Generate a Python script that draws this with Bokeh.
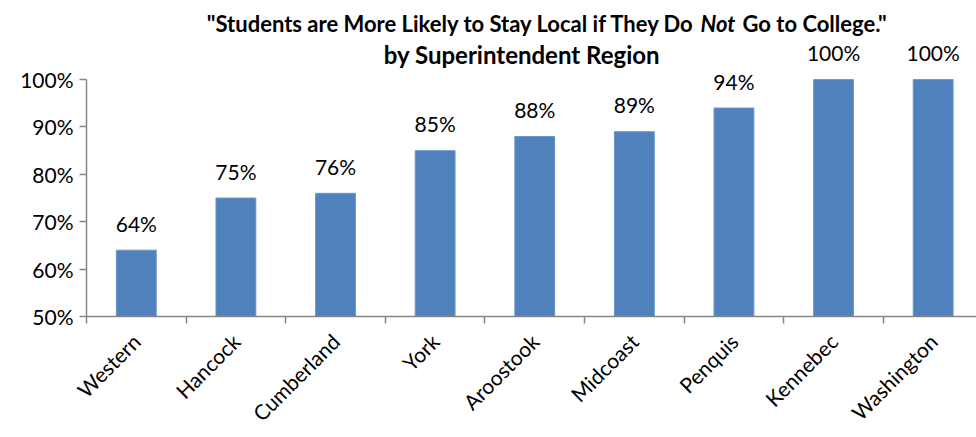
from bokeh.plotting import figure
from bokeh.models import ColumnDataSource, Range1d, FixedTicker, NumeralTickFormatter, Label
from bokeh.core.properties import value
from bokeh.embed import file_html
from bokeh.resources import INLINE

# ---- data ----
regions = ["Western", "Hancock", "Cumberland", "York", "Aroostook",
           "Midcoast", "Penquis", "Kennebec", "Washington"]
shares = [0.64, 0.75, 0.76, 0.85, 0.88, 0.89, 0.94, 1.00, 1.00]
y_ticks = [0.5, 0.6, 0.7, 0.8, 0.9, 1.0]
title_part1 = '"Students are More Likely to Stay Local if They Do'
title_part2 = 'Not'
title_part3 = 'Go to College."'
title_line2 = 'by Superintendent Region'

FONT = "Lato"
BAR = "#4F81BD"
AXIS = "#868686"

n = len(regions)
centers = [i + 0.5 for i in range(n)]
bounds = [float(i) for i in range(n + 1)]
labels = ["{:.0%}".format(v) for v in shares]

src = ColumnDataSource(dict(x=centers, top=shares, label=labels))

p = figure(width=976, height=437, output_backend="svg", toolbar_location=None,
           x_range=Range1d(0, 8.935), y_range=Range1d(0.5, 1.167),
           min_border_left=86, min_border_right=0, min_border_top=0,
           min_border_bottom=118)
p.outline_line_color = None
p.xgrid.visible = False
p.ygrid.visible = False

p.vbar(x="x", top="top", bottom=0.5, width=0.4, source=src,
       fill_color=BAR, line_color="#6A95C9", line_width=1)

p.text(x="x", y="top", text="label", source=src, text_align="center",
       text_baseline="alphabetic", y_offset=-27, text_font=value(FONT),
       text_font_size="21px", text_color="#000000")

# y axis
ya = p.yaxis[0]
ya.ticker = FixedTicker(ticks=y_ticks)
ya.formatter = NumeralTickFormatter(format="0%")
ya.bounds = (0.5, 1.0)
ya.axis_line_color = AXIS
ya.axis_line_width = 1.5
ya.major_tick_line_color = AXIS
ya.major_tick_line_width = 1.5
ya.major_tick_in = 0
ya.major_tick_out = 7
ya.minor_tick_line_color = None
ya.major_label_text_font = FONT
ya.major_label_text_font_size = "21px"
ya.major_label_text_color = "#000000"
ya.major_label_standoff = 6

# x axis
xa = p.xaxis[0]
xa.ticker = FixedTicker(ticks=centers, minor_ticks=bounds)
xa.major_label_overrides = {c: r for c, r in zip(centers, regions)}
xa.axis_line_color = AXIS
xa.axis_line_width = 1.5
xa.major_tick_line_color = None
xa.minor_tick_line_color = AXIS
xa.minor_tick_line_width = 1.5
xa.minor_tick_in = 0
xa.minor_tick_out = 7
xa.major_label_orientation = 0.785398
xa.major_label_text_font = FONT
xa.major_label_text_font_size = "21px"
xa.major_label_text_color = "#000000"
xa.major_label_standoff = 14

# title (mixed styling -> separate labels)
tkw = dict(x_units="screen", y_units="screen", text_font=FONT,
           text_font_style="bold", text_color="#000000",
           text_baseline="alphabetic")
p.add_layout(Label(x=609, y=293, text=title_part1, text_align="right",
                   text_font_size="22px", **tkw))
p.add_layout(Label(x=614, y=293, text=title_part2, text_align="left",
                   text_font_size="22px",
                   **{**tkw, "text_font_style": "bold italic"}))
p.add_layout(Label(x=656, y=293, text=title_part3, text_align="left",
                   text_font_size="22px", **tkw))
p.add_layout(Label(x=435.5, y=262, text=title_line2, text_align="center",
                   text_font_size="24px", **tkw))

open("out.html", "w").write(file_html(p, INLINE))
